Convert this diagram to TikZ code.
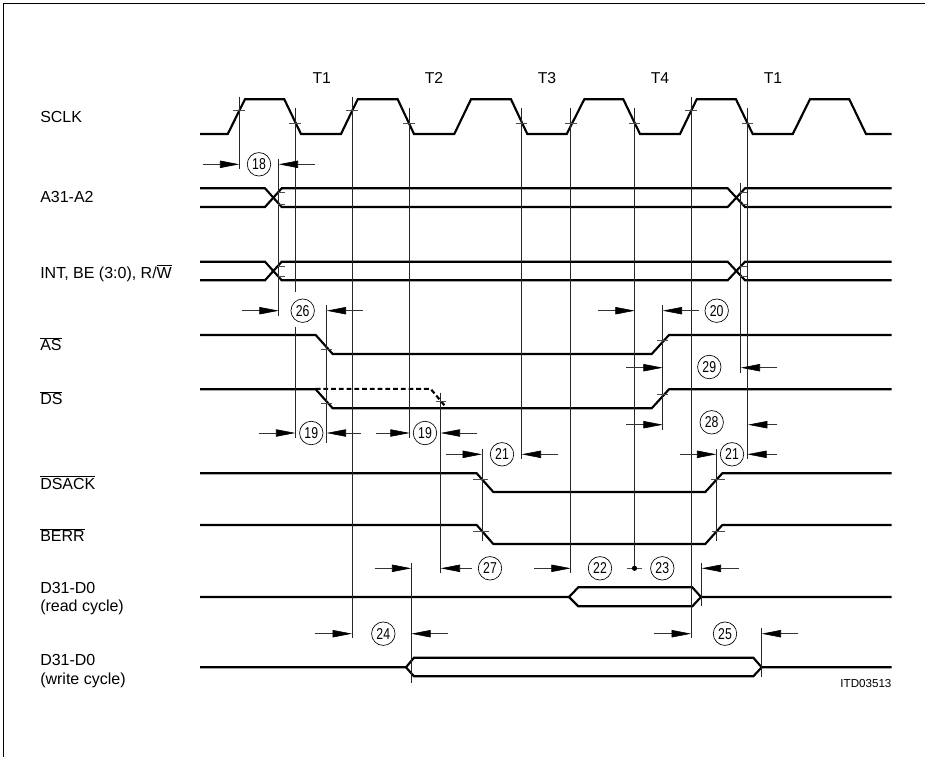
\documentclass[tikz,border=0pt]{standalone}
\usepackage{fontspec}
\setmainfont{Liberation Sans}
\usetikzlibrary{arrows.meta}
\tikzset{
  x=0.75pt,y=-0.75pt,
  signal/.style={line width=1.6pt,line join=miter,line cap=butt},
  dashsignal/.style={signal,dash pattern=on 3.6pt off 2.2pt},
  guide/.style={line width=0.55pt,black!85},
  tickmark/.style={line width=0.45pt,black!70},
  dimline/.style={line width=0.45pt,black!80,-{Triangle[length=14.5pt,width=5.5pt,black]}},
  numcircle/.style={circle,draw,line width=0.5pt,minimum size=17.6pt,inner sep=0pt,font=\fontsize{11.8}{12}\selectfont},
  siglabel/.style={anchor=west,inner sep=0pt,align=left,font=\fontsize{12}{13.6}\selectfont},
  phase/.style={inner sep=0pt,font=\fontsize{11.8}{13}\selectfont},
}
\newcommand{\vg}[3]{\draw[guide] (#1,#2) -- (#1,#3);}
\newcommand{\tk}[3]{\draw[tickmark] (#1,#3) -- (#2,#3);}
% y, from-left, to-left, from-right, to-right
\newcommand{\dimpair}[5]{\draw[dimline] (#2,#1) -- (#3,#1); \draw[dimline] (#4,#1) -- (#5,#1);}
\newcommand{\num}[4]{\node[numcircle] (#1) at (#2,#3) {\scalebox{0.78}[1]{#4}};}
\newcommand{\ovl}[1]{\ensuremath{\overline{\mbox{#1}}}}
\begin{document}
\begin{tikzpicture}
\useasboundingbox (0,0) rectangle (925,757);
\fill[white] (0,0) rectangle (925,757);
\draw[line width=0.75pt] (3.3,757) -- (3.3,3.3) -- (925,3.3);
% SCLK
\draw[signal] (200,134) -- (227.7,134) -- (245,99.3) -- (284.3,99.3) -- (301,134)
 -- (341,134) -- (357.7,99.3) -- (397.7,99.3) -- (414,134)
 -- (454.3,134) -- (471,99.3) -- (511,99.3) -- (527.3,134)
 -- (566.7,134) -- (584.3,99.3) -- (623.3,99.3) -- (640,134)
 -- (680,134) -- (696.7,99.3) -- (736,99.3) -- (752.7,134)
 -- (792.7,134) -- (810,99.3) -- (849.3,99.3) -- (866,134) -- (891.7,134);
% bus signals
\foreach \t/\b in {188.3/207,261.7/280.3}{
  \draw[signal] (200,\t) -- (265,\t) -- (281.7,\b) -- (727.7,\b) -- (745,\t) -- (891.7,\t);
  \draw[signal] (200,\b) -- (265,\b) -- (281.7,\t) -- (727.7,\t) -- (745,\b) -- (891.7,\b);
}
% AS, DS
\foreach \h/\l in {335/354,389.3/408.3}{
  \draw[signal] (200,\h) -- (315.7,\h) -- (332.7,\l) -- (651.7,\l) -- (669,\h) -- (891.7,\h);
}
\draw[dashsignal] (315.7,388.9) -- (430.7,388.9) -- (446.7,408);
% DSACK, BERR
\foreach \h/\l in {473.3/492,525/544}{
  \draw[signal] (200,\h) -- (476.7,\h) -- (493.3,\l) -- (705.3,\l) -- (722.3,\h) -- (891.7,\h);
}
% D31-D0
\draw[signal] (200,597) -- (569,597) -- (578.3,587.3) -- (692.3,587.3) -- (701,597) -- (891.7,597);
\draw[signal] (569,597) -- (578.3,606.3) -- (692.3,606.3) -- (701,597);
\draw[signal] (200,667.3) -- (406,667.3) -- (414,657.7) -- (753.3,657.7) -- (761.7,667.3) -- (891.7,667.3);
\draw[signal] (406,667.3) -- (414,676.3) -- (753.3,676.3) -- (761.7,667.3);
% guide lines
\vg{239.3}{96.7}{169.3}
\vg{278.7}{159}{316}
\vg{295.3}{108}{291.7}
\vg{295.3}{326.7}{438}
\vg{326.7}{305}{443.3}
\vg{352.2}{96.7}{638}
\vg{409.7}{108}{438}
\vg{411.3}{563}{682.7}
\vg{440.7}{392.7}{573}
\vg{482}{449.3}{541}
\vg{521.7}{108}{459.3}
\vg{570.7}{108}{573}
\vg{634.5}{108}{568.3}
\vg{662.7}{305}{430}
\vg{691}{96.7}{638}
\vg{701.7}{563}{606}
\vg{716.4}{449.3}{540.5}
\vg{740.7}{182.7}{373.3}
\vg{747.3}{108}{459.3}
\vg{761.7}{628}{676.7}
% ticks
\tk{233}{245}{110}
\tk{346}{358}{110}
\tk{685}{697}{110}
\tk{289}{301}{123.3}
\tk{403}{415}{123.3}
\tk{516}{527}{123.3}
\tk{565}{577}{123.3}
\tk{629}{640}{123.3}
\tk{742}{753}{123.3}
\foreach \y in {192.7,204,266.7,276.7}{
  \tk{278}{285}{\y}
  \tk{740}{747}{\y}
}
\tk{321}{332}{349}
\tk{321}{332}{403}
\tk{436}{446}{401.7}
\tk{473}{488}{479}
\tk{473}{489}{531.7}
\tk{657}{668}{340}
\tk{657}{668}{394.7}
\tk{711}{725}{479}
\tk{712}{725}{531.7}
% numbered circles
\num{n18}{259}{164.3}{18}
\num{n26}{302.7}{310.7}{26}
\num{n19a}{311.3}{433}{19}
\num{n19b}{425}{433}{19}
\num{n21a}{502}{454.3}{21}
\num{n20}{716.7}{310.7}{20}
\num{n29}{709.3}{367}{29}
\num{n28}{711.7}{422.3}{28}
\num{n21b}{732}{454.3}{21}
\num{n27}{490}{568.3}{27}
\num{n22}{600}{568.3}{22}
\num{n23}{662.3}{568.3}{23}
\num{n24}{383.3}{633.7}{24}
\num{n25}{725}{633.7}{25}
% dimension arrows
\dimpair{164.3}{202.7}{239.3}{315.3}{278.7}
\dimpair{310.7}{242.3}{278.7}{363}{326.7}
\dimpair{433}{259}{295.3}{360.7}{326.7}
\dimpair{433}{376}{409.7}{477.3}{440.7}
\dimpair{454.3}{445.7}{482}{558.3}{521.7}
\dimpair{310.7}{598}{634.7}{699.3}{662.7}
\dimpair{367.7}{626}{662.7}{777.3}{740.7}
\dimpair{424.7}{626}{662.7}{777.3}{748}
\dimpair{454.3}{680}{716.3}{777.3}{747.3}
\dimpair{568.3}{374.7}{411.3}{472}{440.7}
\dimpair{633.7}{315.3}{352}{448}{411.3}
\dimpair{633.7}{654.3}{691}{798.3}{761.7}
\draw[dimline] (534,568.3) -- (570.7,568.3);
\draw[dimline] (738.7,568.3) -- (701.7,568.3);
\draw[tickmark] (627,568.3) -- (641.7,568.3);
\fill (634.5,568.3) circle (2.6);
% phase labels
\node[phase] (p1) at (321.7,78) {T1};
\node[phase] (p2) at (434,78) {T2};
\node[phase] (p3) at (547,78) {T3};
\node[phase] (p4) at (660,78) {T4};
\node[phase] (p5) at (773,78) {T1};
% signal labels
\node[siglabel] (l1) at (40,116.5) {SCLK};
\node[siglabel] (l2) at (40,197) {A31-A2};
\node[siglabel] (l3) at (40,273) {INT, BE (3:0), R/\ovl{W}};
\node[siglabel] (l4) at (40,344) {\ovl{AS}};
\node[siglabel] (l5) at (40,398) {\ovl{DS}};
\node[siglabel] (l6) at (40,482.5) {\ovl{DSACK}};
\node[siglabel] (l7) at (40,535) {\ovl{BERR}};
\node[siglabel] (l8) at (40,598.5) {D31-D0\\(read cycle)};
\node[siglabel] (l9) at (40,671) {D31-D0\\(write cycle)};
\node[anchor=east,inner sep=0pt,font=\fontsize{8.7}{10}\selectfont] (itd) at (891.7,683.5) {ITD03513};
\end{tikzpicture}
\end{document}
